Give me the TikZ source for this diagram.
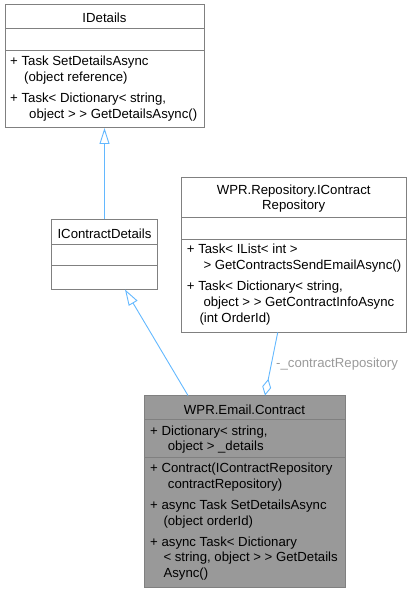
\documentclass[tikz,border=0pt]{standalone}
\usepackage{fontspec}
\setmainfont{Liberation Sans}
\usetikzlibrary{arrows.meta}
\definecolor{edgeblue}{HTML}{63B8FF}
\definecolor{bord}{HTML}{808080}
\definecolor{curfill}{HTML}{999999}
\definecolor{lblgray}{HTML}{9A9A9A}
\begin{document}
\begin{tikzpicture}[x=1pt,y=-1pt,
  box/.style={draw=bord, fill=white, line width=1pt, inner sep=0pt, outer sep=0pt},
  curbox/.style={box, fill=curfill},
  divline/.style={draw=bord, line width=1pt},
  txt/.style={anchor=base west, inner sep=0pt, font=\fontsize{13.2}{15}\selectfont},
  ttl/.style={anchor=base, inner sep=0pt, font=\fontsize{13.2}{15}\selectfont},
  conn/.style={draw=edgeblue, line width=0.9pt},
  inherit/.style={conn, -{Triangle[length=16pt,width=10pt,fill=white,line width=0.9pt]}},
  aggr/.style={conn, {Diamond[length=17pt,width=9pt,fill=white,line width=0.9pt]}-},
  lbl/.style={anchor=base west, inner sep=0pt, text=lblgray, font=\fontsize{13.2}{15}\selectfont}]
\useasboundingbox (0,0) rectangle (412,593);

% IDetails
\node[box, minimum width=199pt, minimum height=123pt] (idetails) at (104.5,66.5) {};
\draw[divline] (idetails.west |- 0,29) -- (idetails.east |- 0,29);
\draw[divline] (idetails.west |- 0,51) -- (idetails.east |- 0,51);
\node[ttl] (t1) at (104.5,22.7) {IDetails};
\node[txt] (t2) at (10,66) {+ Task SetDetailsAsync};
\node[txt] (t3) at (24,82) {(object reference)};
\node[txt] (t4) at (10,103) {+ Task< Dictionary< string,};
\node[txt] (t5) at (29,119) {object > > GetDetailsAsync()};

% Repository
\node[box, minimum width=225.5pt, minimum height=155pt] (repo) at (293.75,255) {};
\draw[divline] (repo.west |- 0,217.5) -- (repo.east |- 0,217.5);
\draw[divline] (repo.west |- 0,239.5) -- (repo.east |- 0,239.5);
\node[ttl] (r1) at (293.7,195) {WPR.Repository.IContract};
\node[ttl] (r2) at (293.7,209.5) {Repository};
\node[txt] (r3) at (186.7,253.3) {+ Task< IList< int >};
\node[txt] (r4) at (203.3,269.3) {> GetContractsSendEmailAsync()};
\node[txt] (r5) at (186.7,290.7) {+ Task< Dictionary< string,};
\node[txt] (r6) at (203.3,306.7) {object > > GetContractInfoAsync};
\node[txt] (r7) at (199.3,322.7) {(int OrderId)};

% IContractDetails
\node[box, minimum width=106pt, minimum height=70pt] (cd) at (104.5,254.5) {};
\draw[divline] (cd.west |- 0,244.5) -- (cd.east |- 0,244.5);
\draw[divline] (cd.west |- 0,265.5) -- (cd.east |- 0,265.5);
\node[ttl] (c1) at (104.5,238.3) {IContractDetails};

% Contract
\node[curbox, minimum width=201pt, minimum height=191.5pt] (contract) at (244.5,491.25) {};
\draw[divline] (contract.west |- 0,419.5) -- (contract.east |- 0,419.5);
\draw[divline] (contract.west |- 0,457.5) -- (contract.east |- 0,457.5);
\node[ttl] (k1) at (244.5,414) {WPR.Email.Contract};
\node[txt] (k2) at (150,435) {+ Dictionary< string,};
\node[txt] (k3) at (167.7,450.7) {object > \_details};
\node[txt] (k4) at (150,472.7) {+ Contract(IContractRepository};
\node[txt] (k5) at (167.7,488.3) {contractRepository)};
\node[txt] (k6) at (150,509.3) {+ async Task SetDetailsAsync};
\node[txt] (k7) at (163.3,525) {(object orderId)};
\node[txt] (k8) at (150,546) {+ async Task< Dictionary};
\node[txt] (k9) at (163.3,561.7) {< string, object > > GetDetails};
\node[txt] (k10) at (163.3,577.3) {Async()};

% connectors
\draw[inherit] (cd.north) -- (idetails.south);
\coordinate (ca) at (188,395.5);
\coordinate (cb) at (125,289.5);
\draw[inherit] (ca) -- (cb);
\coordinate (da) at (265,395.5);
\coordinate (db) at (277.7,332.5);
\draw[aggr] (da) -- (db);
\node[lbl] (l1) at (276,367.7) {-\_contractRepository};
\end{tikzpicture}
\end{document}
